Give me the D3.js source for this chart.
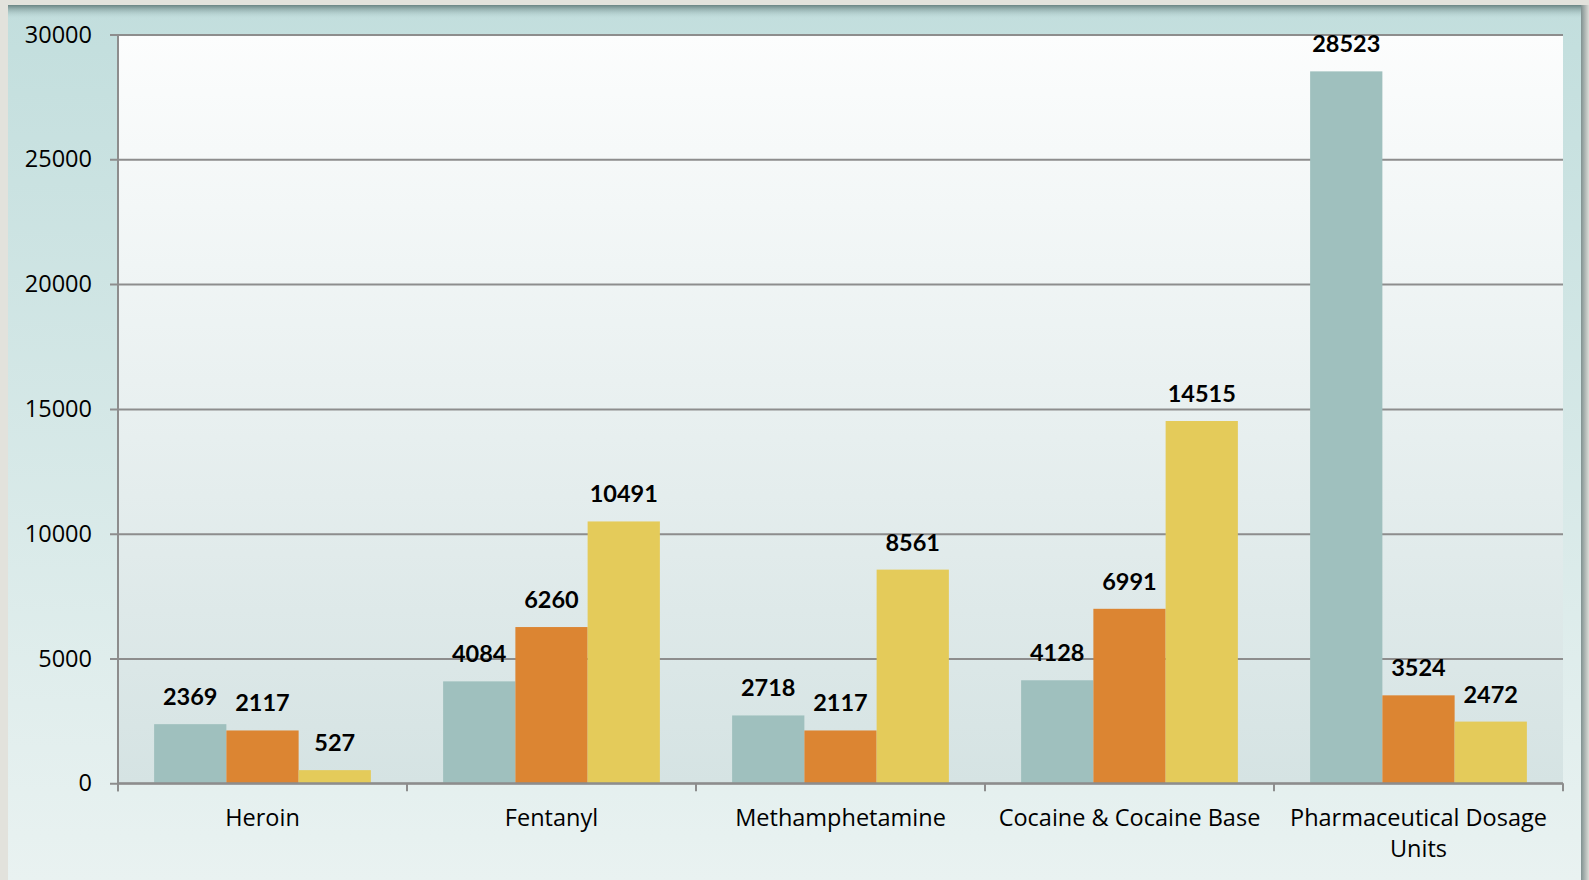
<!DOCTYPE html>
<html>
<head>
<meta charset="UTF-8">
<title>Seizures by drug type</title>
<script src="https://d3js.org/d3.v7.min.js"></script>
<style>
  body { margin: 0; background: #e2e2dc; }
  svg { display: block; }
  text { font-family: Lato, "Open Sans", sans-serif; fill: #000; }
</style>
</head>
<body>
<script>
// DATA
var categories = ["Heroin", "Fentanyl", "Methamphetamine", "Cocaine & Cocaine Base", "Pharmaceutical Dosage Units"];
var seriesNames = ["Series 1", "Series 2", "Series 3"];
var series1 = [2369, 4084, 2718, 4128, 28523];
var series2 = [2117, 6260, 2117, 6991, 3524];
var series3 = [527, 10491, 8561, 14515, 2472];
var yTicks = [0, 5000, 10000, 15000, 20000, 25000, 30000];
var colors = ["#9fc0be", "#dc8532", "#e4cb5a"];

var allSeries = [series1, series2, series3];

var W = 1589, H = 880;
var plot = {left: 118, right: 1563, top: 34.5, bottom: 783.3};

var svg = d3.select("body").append("svg")
    .attr("width", W)
    .attr("height", H);

var defs = svg.append("defs");

// frame gradient
var fg = defs.append("linearGradient").attr("id", "frameGrad")
    .attr("x1", 0).attr("y1", 0).attr("x2", 0).attr("y2", 1);
fg.append("stop").attr("offset", "0%").attr("stop-color", "#c2dedd");
fg.append("stop").attr("offset", "100%").attr("stop-color", "#e9f2f1");

// plot area gradient
var pg = defs.append("linearGradient").attr("id", "plotGrad")
    .attr("x1", 0).attr("y1", 0).attr("x2", 0).attr("y2", 1);
pg.append("stop").attr("offset", "0%").attr("stop-color", "#fcfdfd");
pg.append("stop").attr("offset", "100%").attr("stop-color", "#d5e3e3");

// top shadow band
var tg = defs.append("linearGradient").attr("id", "topShade")
    .attr("x1", 0).attr("y1", 0).attr("x2", 0).attr("y2", 1);
tg.append("stop").attr("offset", "0%").attr("stop-color", "#5f7a79").attr("stop-opacity", 0.9);
tg.append("stop").attr("offset", "100%").attr("stop-color", "#c2dedd").attr("stop-opacity", 0);

// right shadow
var rg = defs.append("linearGradient").attr("id", "rightShade")
    .attr("x1", 0).attr("y1", 0).attr("x2", 1).attr("y2", 0);
rg.append("stop").attr("offset", "0%").attr("stop-color", "#7f9190");
rg.append("stop").attr("offset", "100%").attr("stop-color", "#dcdcd7");

// BACKGROUND
svg.append("rect")
    .attr("x", 8).attr("y", 5)
    .attr("width", 1573).attr("height", H - 5)
    .attr("fill", "url(#frameGrad)");
svg.append("rect")
    .attr("x", 8).attr("y", 5)
    .attr("width", 1573).attr("height", 14)
    .attr("fill", "url(#topShade)");
svg.append("rect")
    .attr("x", 1581).attr("y", 5)
    .attr("width", 8).attr("height", H - 5)
    .attr("fill", "url(#rightShade)");

svg.append("rect")
    .attr("x", plot.left).attr("y", plot.top)
    .attr("width", plot.right - plot.left)
    .attr("height", plot.bottom - plot.top)
    .attr("fill", "url(#plotGrad)");

// SCALES
var x0 = d3.scaleBand()
    .domain(categories)
    .range([plot.left, plot.right])
    .padding(0);

var x1 = d3.scaleBand()
    .domain(seriesNames)
    .range([0, x0.bandwidth()])
    .paddingInner(0)
    .paddingOuter(0.5);

var y = d3.scaleLinear()
    .domain([0, 30000])
    .range([plot.bottom, plot.top]);

// GRIDLINES + Y AXIS
var yAxis = d3.axisLeft(y)
    .tickValues(yTicks)
    .tickSize(-(plot.right - plot.left))
    .tickPadding(26)
    .tickFormat(d3.format("d"));

var gy = svg.append("g")
    .attr("transform", "translate(" + plot.left + ",0)")
    .call(yAxis);
gy.select(".domain").remove();
gy.selectAll(".tick line")
    .attr("x1", -8)
    .attr("stroke", "#8d8d8d")
    .attr("stroke-width", 2);
gy.selectAll(".tick text")
    .style("font-family", "'Open Sans', sans-serif")
    .style("font-size", "23.5px")
    .attr("fill", "#000");

// left axis line
svg.append("line")
    .attr("x1", plot.left).attr("x2", plot.left)
    .attr("y1", plot.top).attr("y2", plot.bottom + 8)
    .attr("stroke", "#8d8d8d").attr("stroke-width", 2);

// BARS
var groups = svg.append("g").selectAll("g")
    .data(categories)
    .join("g")
    .attr("transform", function (d) { return "translate(" + x0(d) + ",0)"; });

var barData = function (d, i) {
    return allSeries.map(function (s, k) {
        return {name: seriesNames[k], value: s[i], color: colors[k]};
    });
};

groups.selectAll("rect")
    .data(barData)
    .join("rect")
    .attr("x", function (d) { return x1(d.name); })
    .attr("y", function (d) { return y(d.value); })
    .attr("width", x1.bandwidth())
    .attr("height", function (d) { return y(0) - y(d.value); })
    .attr("fill", function (d) { return d.color; });

groups.selectAll("text.val")
    .data(barData)
    .join("text")
    .attr("class", "val")
    .attr("x", function (d) { return x1(d.name) + x1.bandwidth() / 2; })
    .attr("y", function (d) { return y(d.value) - 19; })
    .attr("text-anchor", "middle")
    .style("font-size", "23.5px")
    .style("font-weight", "bold")
    .text(function (d) { return d.value; });

// X AXIS
var xAxis = d3.axisBottom(x0)
    .tickSize(0)
    .tickFormat("");
var gx = svg.append("g")
    .attr("transform", "translate(0," + plot.bottom + ")")
    .call(xAxis);
gx.select(".domain")
    .attr("d", "M" + plot.left + ",0H" + plot.right)
    .attr("stroke", "#8d8d8d").attr("stroke-width", 2);

// category boundary ticks
gx.selectAll("line.sep")
    .data(categories.concat(["end"]))
    .join("line")
    .attr("class", "sep")
    .attr("x1", function (d, i) { return plot.left + i * x0.step(); })
    .attr("x2", function (d, i) { return plot.left + i * x0.step(); })
    .attr("y1", 0).attr("y2", 8)
    .attr("stroke", "#8d8d8d").attr("stroke-width", 2);

// category labels with wrapping
var catLabels = svg.append("g").selectAll("text")
    .data(categories)
    .join("text")
    .attr("x", function (d) { return x0(d) + x0.bandwidth() / 2; })
    .attr("y", 826)
    .attr("text-anchor", "middle")
    .style("font-family", "'Open Sans', sans-serif")
    .style("font-size", "23.5px")
    .text(function (d) { return d; });

catLabels.each(function (d) {
    var t = d3.select(this);
    var words = d.split(" ");
    var maxW = x0.bandwidth() - 8;
    var cx = +t.attr("x");
    t.text(null);
    var line = [];
    var tspan = t.append("tspan").attr("x", cx).attr("dy", 0);
    words.forEach(function (w) {
        line.push(w);
        tspan.text(line.join(" "));
        if (tspan.node().getComputedTextLength() > maxW && line.length > 1) {
            line.pop();
            tspan.text(line.join(" "));
            line = [w];
            tspan = t.append("tspan").attr("x", cx).attr("dy", 31).text(w);
        }
    });
});
</script>
</body>
</html>
